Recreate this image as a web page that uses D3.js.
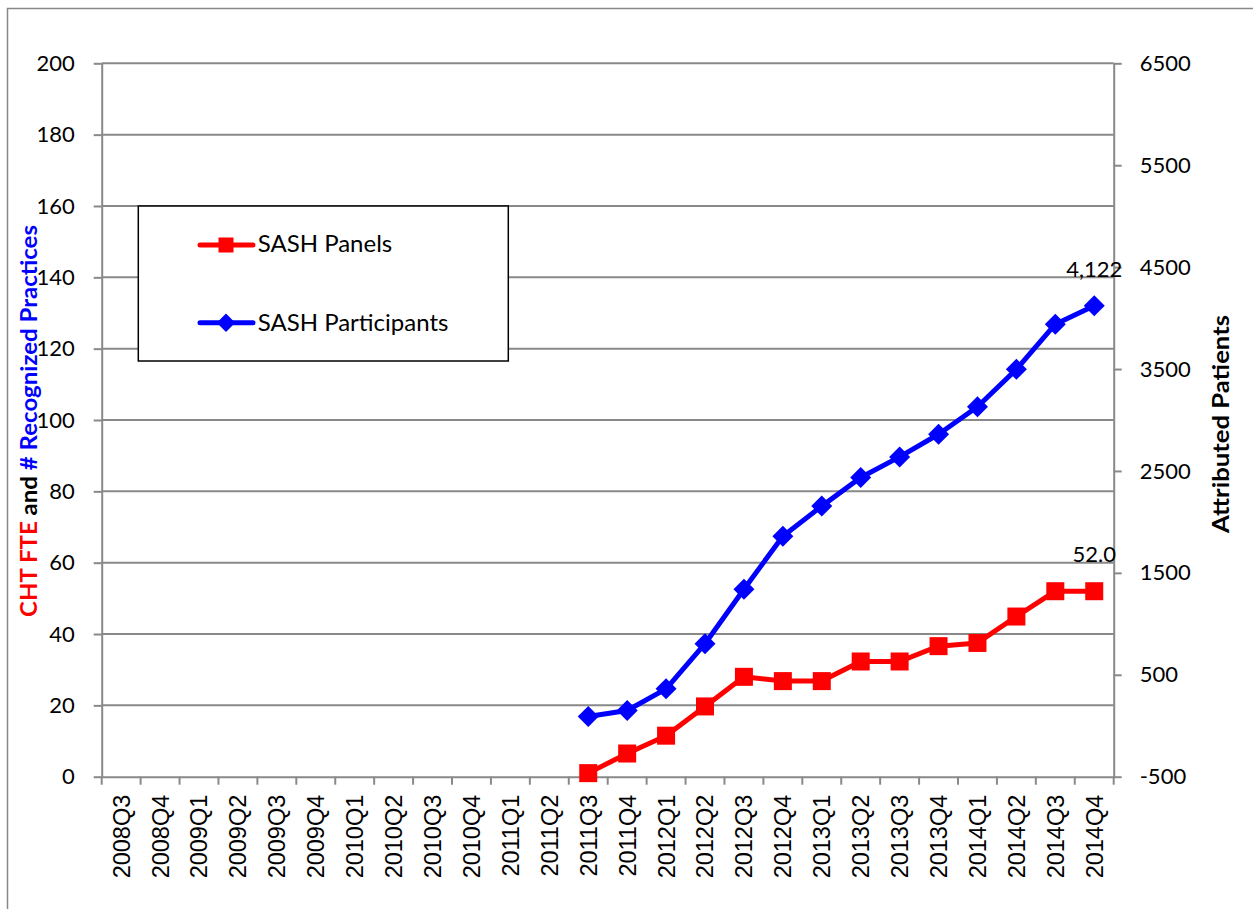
<!DOCTYPE html>
<html>
<head>
<meta charset="utf-8">
<script src="https://cdn.jsdelivr.net/npm/d3@7"></script>
<style>
  html, body { margin: 0; padding: 0; background: #fff; }
  svg { display: block; }
</style>
</head>
<body>
<script>
const categories = ["2008Q3","2008Q4","2009Q1","2009Q2","2009Q3","2009Q4","2010Q1","2010Q2","2010Q3","2010Q4","2011Q1","2011Q2","2011Q3","2011Q4","2012Q1","2012Q2","2012Q3","2012Q4","2013Q1","2013Q2","2013Q3","2013Q4","2014Q1","2014Q2","2014Q3","2014Q4"];
const sashPanels = [null,null,null,null,null,null,null,null,null,null,null,null,1,6.5,11.5,19.7,28,26.8,26.8,32.3,32.3,36.6,37.5,44.9,52,52];
const sashParticipants = [null,null,null,null,null,null,null,null,null,null,null,null,90,150,362,805,1340,1860,2155,2435,2638,2860,3130,3498,3940,4122];
const leftTicks = [0,20,40,60,80,100,120,140,160,180,200];
const rightTicks = [-500,500,1500,2500,3500,4500,5500,6500];
const seriesNames = ["SASH Panels","SASH Participants"];

const W = 1253, H = 909;
const L = 101.7, R = 1113.7, T = 63.3, B = 776.7;
const gray = "#898989";
const font = "Lato, 'Open Sans', sans-serif";

const svg = d3.select("body").append("svg").attr("width", W).attr("height", H);
svg.append("rect").attr("width", W).attr("height", H).attr("fill", "#fff");
// outer chart border
svg.append("rect").attr("x", 7.5).attr("y", 8.5).attr("width", W + 20).attr("height", H + 20)
  .attr("fill", "none").attr("stroke", gray).attr("stroke-width", 1.5);

const x = d3.scaleBand().domain(categories).range([L, R]).padding(0);
const yL = d3.scaleLinear().domain([0, 200]).range([B, T]);
const yR = d3.scaleLinear().domain([-500, 6500]).range([B, T]);

// gridlines
svg.append("g").selectAll("line").data(leftTicks.filter(d => d !== 0)).join("line")
  .attr("x1", L).attr("x2", R).attr("y1", d => yL(d)).attr("y2", d => yL(d))
  .attr("stroke", gray).attr("stroke-width", 2);

// left axis
const gL = svg.append("g").attr("transform", `translate(${L},0)`)
  .call(d3.axisLeft(yL).tickValues(leftTicks).tickSize(8).tickPadding(19).tickSizeOuter(0));
gL.select(".domain").attr("stroke", gray).attr("stroke-width", 2);
gL.selectAll(".tick line").attr("stroke", gray).attr("stroke-width", 2);
gL.selectAll(".tick text").attr("font-family", font).attr("font-size", 22).attr("fill", "#000");

// right axis
const gR = svg.append("g").attr("transform", `translate(${R},0)`)
  .call(d3.axisRight(yR).tickValues(rightTicks).tickSize(8).tickPadding(18).tickSizeOuter(0).tickFormat(d => String(d)));
gR.select(".domain").attr("stroke", gray).attr("stroke-width", 2);
gR.selectAll(".tick line").attr("stroke", gray).attr("stroke-width", 2);
gR.selectAll(".tick text").attr("font-family", font).attr("font-size", 22).attr("fill", "#000");

// bottom axis: labels
const gB = svg.append("g").attr("transform", `translate(0,${B})`)
  .call(d3.axisBottom(x).tickSize(0).tickSizeOuter(0));
gB.select(".domain").attr("stroke", gray).attr("stroke-width", 2);
gB.selectAll(".tick text")
  .attr("font-family", "'Liberation Sans', Arial, sans-serif").attr("font-size", 23.5).attr("fill", "#000")
  .attr("text-anchor", "end").attr("transform", "translate(0,18) rotate(-90)")
  .attr("x", 0).attr("y", 0).attr("dy", "0.36em");
// category boundary ticks
const bounds = categories.map(c => x(c)).concat([x.range()[1]]);
gB.append("g").selectAll("line").data(bounds).join("line")
  .attr("x1", d => d).attr("x2", d => d).attr("y1", 0).attr("y2", 8)
  .attr("stroke", gray).attr("stroke-width", 2);

// series
const cx = c => x(c) + x.bandwidth() / 2;
const panelPts = categories.map((c, i) => ({c, v: sashPanels[i]})).filter(d => d.v != null);
const partPts = categories.map((c, i) => ({c, v: sashParticipants[i]})).filter(d => d.v != null);

svg.append("path").datum(partPts)
  .attr("d", d3.line().x(d => cx(d.c)).y(d => yR(d.v)))
  .attr("fill", "none").attr("stroke", "#0000FF").attr("stroke-width", 5).attr("stroke-linejoin", "round");
svg.append("path").datum(panelPts)
  .attr("d", d3.line().x(d => cx(d.c)).y(d => yL(d.v)))
  .attr("fill", "none").attr("stroke", "#FF0000").attr("stroke-width", 5).attr("stroke-linejoin", "round");

const diamond = (px, py, r) => `M${px},${py - r}L${px + r},${py}L${px},${py + r}L${px - r},${py}Z`;
svg.append("g").selectAll("path").data(partPts).join("path")
  .attr("d", d => diamond(cx(d.c), yR(d.v), 10.5)).attr("fill", "#0000FF");
svg.append("g").selectAll("rect").data(panelPts).join("rect")
  .attr("x", d => cx(d.c) - 9).attr("y", d => yL(d.v) - 9).attr("width", 18).attr("height", 18)
  .attr("fill", "#FF0000");

// value labels on last points
const lastPanel = panelPts[panelPts.length - 1];
const lastPart = partPts[partPts.length - 1];
svg.append("text").attr("x", cx(lastPanel.c)).attr("y", yL(lastPanel.v) - 29)
  .attr("text-anchor", "middle").attr("font-family", font).attr("font-size", 22).attr("fill", "#000")
  .text(d3.format(".1f")(lastPanel.v));
svg.append("text").attr("x", cx(lastPart.c)).attr("y", yR(lastPart.v) - 29)
  .attr("text-anchor", "middle").attr("font-family", font).attr("font-size", 22).attr("fill", "#000")
  .text(d3.format(",")(lastPart.v));

// axis titles
const lt = svg.append("text").attr("transform", "translate(37,421) rotate(-90)")
  .attr("text-anchor", "middle").attr("font-family", font).attr("font-weight", "bold").attr("font-size", 23)
  .attr("textLength", 392).attr("lengthAdjust", "spacingAndGlyphs");
lt.append("tspan").attr("fill", "#FF0000").text("CHT FTE");
lt.append("tspan").attr("fill", "#000").text(" and ");
lt.append("tspan").attr("fill", "#0000FF").text("# Recognized Practices");

svg.append("text").attr("transform", "translate(1229.3,424) rotate(-90)")
  .attr("text-anchor", "middle").attr("font-family", font).attr("font-weight", "bold").attr("font-size", 23)
  .attr("textLength", 218).attr("lengthAdjust", "spacingAndGlyphs")
  .attr("fill", "#000").text("Attributed Patients");

// legend
const lg = svg.append("g");
lg.append("rect").attr("x", 138.3).attr("y", 206).attr("width", 370).attr("height", 155)
  .attr("fill", "#fff").attr("stroke", "#000").attr("stroke-width", 1.5);
const legendRows = [
  {name: seriesNames[0], color: "#FF0000", y: 245, base: 252, shape: "square"},
  {name: seriesNames[1], color: "#0000FF", y: 322.7, base: 331, shape: "diamond"}
];
legendRows.forEach(r => {
  lg.append("line").attr("x1", 200).attr("x2", 253).attr("y1", r.y).attr("y2", r.y)
    .attr("stroke", r.color).attr("stroke-width", 5).attr("stroke-linecap", "round");
  if (r.shape === "square") {
    lg.append("rect").attr("x", 226 - 7.5).attr("y", r.y - 7.5).attr("width", 15).attr("height", 15).attr("fill", r.color);
  } else {
    lg.append("path").attr("d", diamond(226, r.y, 9.2)).attr("fill", r.color);
  }
  lg.append("text").attr("x", 257.7).attr("y", r.base).attr("font-family", font).attr("font-size", 24)
    .attr("fill", "#000").text(r.name);
});
</script>
</body>
</html>
